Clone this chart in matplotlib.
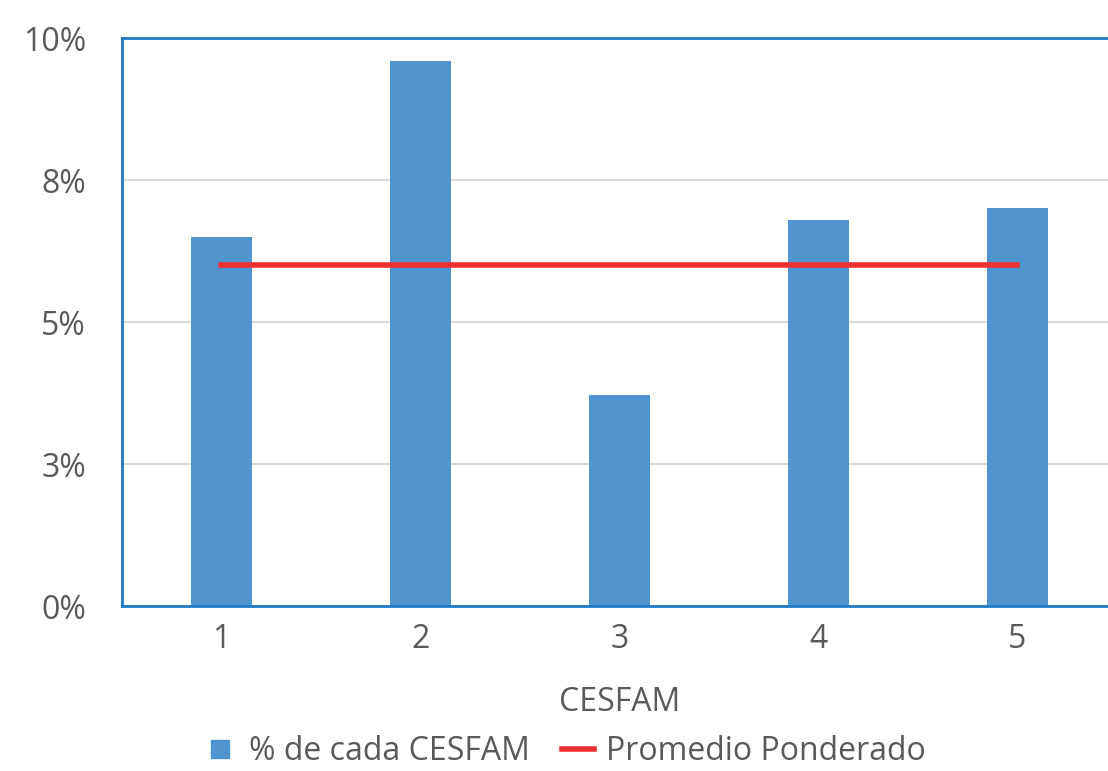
import numpy as np
import matplotlib
matplotlib.use('Agg')
import matplotlib.pyplot as plt
from matplotlib.lines import Line2D

# Data
categories = ['1', '2', '3', '4', '5']
pct_cesfam = [6.50, 9.60, 3.72, 6.80, 7.00]
promedio = [6.00, 6.00, 6.00, 6.00, 6.00]
y_ticks = [0, 2.5, 5, 7.5, 10]
y_labels = ['0%', '3%', '5%', '8%', '10%']

plt.rcParams['font.family'] = ['Open Sans', 'DejaVu Sans']
text_color = '#595959'
bar_color = '#4F94CF'
line_color = '#EE3030'
spine_color = '#1F7BC8'
fs = 23

fig = plt.figure(figsize=(11.08, 7.71), dpi=100)
ax = fig.add_axes([0.1101, 0.214, 0.898, 0.7367])

x = np.arange(len(categories))
ax.bar(x, pct_cesfam, width=0.31, color=bar_color, zorder=2)
ax.plot(x, promedio, color=line_color, linewidth=4, zorder=3)

ax.set_xlim(-0.5, 4.5)
ax.set_ylim(0, 10)
ax.set_yticks(y_ticks)
ax.set_yticklabels(y_labels)
ax.set_xticks(x)
ax.set_xticklabels(categories)
ax.yaxis.grid(True, color='#D9D9D9', linewidth=1.5, zorder=0)
ax.set_axisbelow(True)

for s in ax.spines.values():
    s.set_color(spine_color)
    s.set_linewidth(2)
ax.spines['right'].set_visible(False)

ax.tick_params(axis='both', length=0, labelsize=fs, colors=text_color)
ax.tick_params(axis='x', pad=12)
ax.tick_params(axis='y', pad=26)
ax.set_xlabel('CESFAM', fontsize=fs, color=text_color, labelpad=22)

handles = [
    Line2D([], [], linestyle='none', marker='s', markersize=13,
           markerfacecolor=bar_color, markeredgecolor=bar_color),
    Line2D([], [], color=line_color, linewidth=4),
]
labels = ['% de cada CESFAM', 'Promedio Ponderado']
leg = fig.legend(handles, labels, loc='lower center', bbox_to_anchor=(0.51, -0.034), ncol=2,
                 frameon=False, fontsize=fs, handlelength=1.0, columnspacing=1.0,
                 handletextpad=0.4)
for t in leg.get_texts():
    t.set_color(text_color)

fig.savefig('out.png', dpi=100)
